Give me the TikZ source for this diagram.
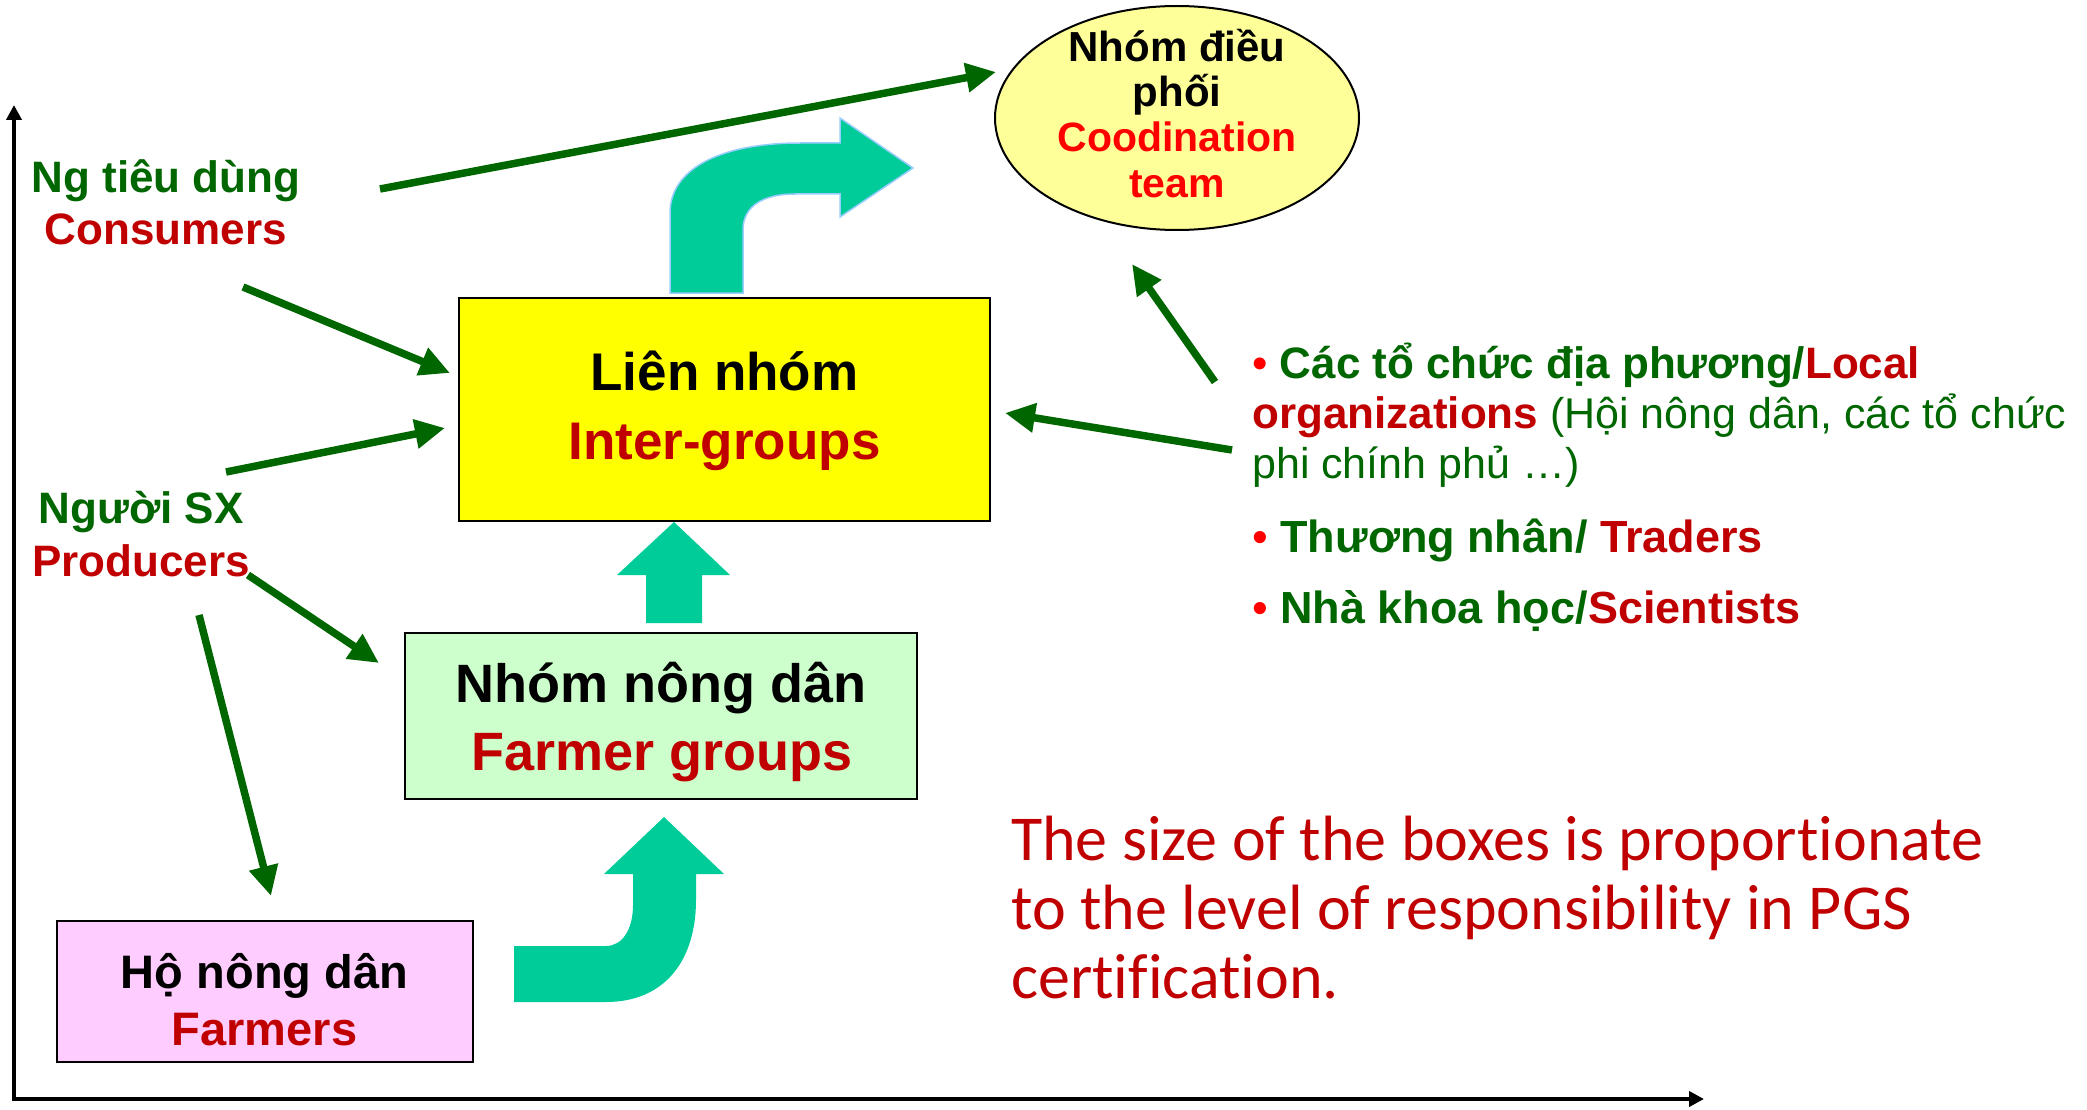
\documentclass[tikz,border=0pt]{standalone}
\usepackage{fontspec}
\setmainfont{Liberation Sans}
\newfontfamily\notefont[Ligatures=NoCommon]{Carlito}
\usetikzlibrary{arrows.meta,shapes.geometric}
\definecolor{leafgreen}{HTML}{006600}
\definecolor{deepred}{HTML}{C00000}
\definecolor{brightred}{HTML}{FF0000}
\definecolor{bigarrow}{HTML}{00CC99}
\definecolor{arrowedge}{HTML}{99CCFF}
\definecolor{interfill}{HTML}{FFFF00}
\definecolor{groupfill}{HTML}{CCFFCC}
\definecolor{farmfill}{HTML}{FFCCFF}
\definecolor{teamfill}{HTML}{FFFF99}
\def\sz#1{\fontsize{#1}{#1}\selectfont}

\begin{document}
\begin{tikzpicture}[x=1pt, y=-1pt,
		box/.style={draw=black, line width=2pt, inner sep=0pt},
		lbl/.style={anchor=base, inner sep=0pt, font=\bfseries\sz{#1}},
		item/.style={anchor=base west, inner sep=0pt, font=\sz{#1}},
		note/.style={anchor=base west, inner sep=0pt, deepred, font=\notefont\sz{64}},
		feed/.style={draw=leafgreen, line width=7.5pt, -{Triangle[length=30pt, width=28pt]}}]
			%%%%% START %%%%%
			\useasboundingbox (0,0) rectangle (2087,1110);
			
			\coordinate (origin) at (14,1099);
			\coordinate (ytop) at (14,105);
			\coordinate (xend) at (1704,1099);
			\draw[line width=4pt, {Triangle[length=15pt, width=15pt]}-{Triangle[length=15pt, width=15pt]}] (ytop) -- (origin) -- (xend);
			
			% big teal arrows
			\fill[bigarrow] (514,1002) -- (606,1002) .. controls (665,1002) and (696,960) .. (696,900) -- (696,874) -- (724,874) -- (664,817) -- (604,874) -- (633,874) -- (633,905) .. controls (633,930) and (622,946) .. (606,946) -- (514,946) -- cycle;
			\fill[bigarrow] (646,623) -- (646,575) -- (617,575) -- (674,522) -- (730,575) -- (702,575) -- (702,623) -- cycle;
			\filldraw[fill=bigarrow, draw=arrowedge, line width=1.5pt] (670,293) -- (670,213) .. controls (670,168) and (722,143) .. (800,143) -- (840,143) -- (840,118) -- (913,168) -- (840,217) -- (840,194) -- (795,194) .. controls (765,194) and (743,205) .. (743,230) -- (743,293) -- cycle;
			
			\node[box, fill=teamfill, ellipse, minimum width=364, minimum height=224] (team) at (1177,118) {};
			\node[box, fill=interfill, minimum width=531, minimum height=223] (inter) at (724.5,409.5) {};
			\node[box, fill=groupfill, minimum width=512, minimum height=166] (group) at (661,716) {};
			\node[box, fill=farmfill, minimum width=416, minimum height=141] (farm) at (265,991.5) {};
			
			\node[lbl=42] (team-a) at (1177,62) {Nhóm điều};
			\node[lbl=42] (team-b) at (1177,107) {phối};
			\node[lbl=41, brightred] (team-c) at (1177,152) {Coodination};
			\node[lbl=41, brightred] (team-d) at (1177,197) {team};
			
			\node[lbl=53] (inter-a) at (724.5,390) {Liên nhóm};
			\node[lbl=53, deepred] (inter-b) at (724.5,459) {Inter-groups};
			\node[lbl=54] (group-a) at (661,702) {Nhóm nông dân};
			\node[lbl=54, deepred] (group-b) at (662,770) {Farmer groups};
			\node[lbl=47] (farm-a) at (264.5,988) {Hộ nông dân};
			\node[lbl=47, deepred] (farm-b) at (264.5,1045) {Farmers};
			
			\node[lbl=44, leafgreen] (cons-a) at (166,193) {Ng tiêu dùng};
			\node[lbl=44, deepred] (cons-b) at (166,244) {Consumers};
			\node[lbl=44, leafgreen] (prod-a) at (141,523) {Người SX};
			\node[lbl=44, deepred] (prod-b) at (141,576) {Producers};
			
			\node[item=44] (org-a) at (1252,378) {\textcolor{brightred}{•} \textbf{\textcolor{leafgreen}{Các tổ chức địa phương/}\textcolor{deepred}{Local}}};
			\node[item=44, leafgreen] (org-b) at (1252,428) {\textbf{\textcolor{deepred}{organizations}}\sz{43} (Hội nông dân, các tổ chức};
			\node[item=43, leafgreen] (org-c) at (1252,478) {phi chính phủ …)};
			\node[item=45] (trade) at (1252,552) {\textcolor{brightred}{•} \textbf{\textcolor{leafgreen}{Thương nhân/ }\textcolor{deepred}{Traders}}};
			\node[item=45] (sci) at (1252,623) {\textcolor{brightred}{•} \textbf{\textcolor{leafgreen}{Nhà khoa học/}\textcolor{deepred}{Scientists}}};
			
			\node[note] (note-a) at (1011,860) {The size of the boxes is proportionate};
			\node[note] (note-b) at (1011,929) {to the level of responsibility in PGS};
			\node[note] (note-c) at (1011,998) {certification.};
			
			% green links
			\coordinate (cons-up) at (380,189);
			\coordinate (cons-dn) at (243,287);
			\coordinate (prod-up) at (226,472);
			\coordinate (prod-rt) at (248,575);
			\coordinate (prod-dn) at (199,615);
			\coordinate (org-up) at (1215,382);
			\coordinate (org-lf) at (1232,450);
			\coordinate (team-in) at (996,72);
			\coordinate (team-low) at (1132,264);
			\coordinate (inter-a-in) at (450,373);
			\coordinate (inter-b-in) at (445,428);
			\coordinate (inter-c-in) at (1005,413);
			\coordinate (group-in) at (379,663);
			\coordinate (farm-in) at (271,896);
			
			\draw[feed] (cons-up) -- (team-in);
			\draw[feed] (cons-dn) -- (inter-a-in);
			\draw[feed] (prod-up) -- (inter-b-in);
			\draw[feed] (prod-rt) -- (group-in);
			\draw[feed] (prod-dn) -- (farm-in);
			\draw[feed] (org-up) -- (team-low);
			\draw[feed] (org-lf) -- (inter-c-in);
			
			%%%%% END %%%%%
\end{tikzpicture}
\end{document}
